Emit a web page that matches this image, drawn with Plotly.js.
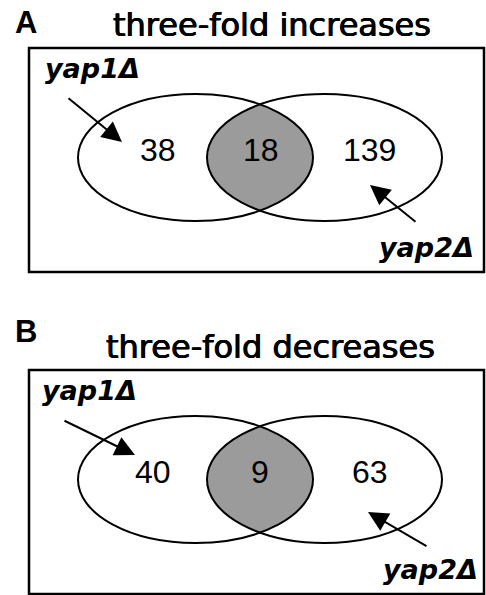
<!DOCTYPE html>
<html>
<head>
<meta charset="utf-8">
<script src="https://cdn.plot.ly/plotly-3.0.1.min.js"></script>
<style>html,body{margin:0;padding:0;background:#fff;}#chart{width:486px;height:595px;}</style>
</head>
<body>
<div id="chart"></div>
<script>
// ---- data ----
const panelLetters = ['A', 'B'];
const panelTitles = ['three-fold increases', 'three-fold decreases'];
const setNames = ['yap1\u0394', 'yap2\u0394'];
const onlyYap1 = [38, 40];
const shared = [18, 9];
const onlyYap2 = [139, 63];

// ---- layout geometry (pixel-like coordinates) ----
const W = 486, H = 595;
const panelTop = [0, 322];
const geo = {
  box: [29, 48, 484, 272],
  cxL: 195.5, cxR: 324.5, rx: 117.5, ry: 63.5, cy: 157.5,
  letter: [13, 22], title: [25],
  label1Y: 68, label2Y: 247,
  numY: 150
};
const panelTweaks = [
  {letterY: 22, titleX: 272, label1X: 43, label2X: 476, arrow1: [67, 97, 122, 142], arrow2: [417, 223, 370, 185], numX: [158, 260.5, 369.5]},
  {letterY: 9, titleX: 270, label1X: 40, label2X: 480, arrow1: [63, 98, 135, 133], arrow2: [428, 225, 368, 190], numX: [153, 260, 370]}
];

const traces = [];
const shapes = [];
const annotations = [];

function lens(cxL, cxR, rx, ry, cy) {
  const x0 = (cxL + cxR) / 2;
  const th = Math.acos((x0 - cxL) / rx);
  const xs = [], ys = [];
  const n = 60;
  for (let i = 0; i <= n; i++) {
    const t = -th + 2 * th * i / n;
    xs.push(cxL + rx * Math.cos(t)); ys.push(cy + ry * Math.sin(t));
  }
  for (let i = 0; i <= n; i++) {
    const t = Math.PI - th + 2 * th * i / n;
    xs.push(cxR + rx * Math.cos(t)); ys.push(cy + ry * Math.sin(t));
  }
  return {xs, ys};
}

const heavy = '0.5px 0 0 #000, -0.5px 0 0 #000';

panelLetters.forEach((letter, p) => {
  const o = panelTop[p];
  const tw = panelTweaks[p];
  const cy = geo.cy + o;
  // box
  shapes.push({type: 'rect', xref: 'x', yref: 'y', x0: geo.box[0], x1: geo.box[2], y0: geo.box[1] + o, y1: geo.box[3] + o,
    line: {color: '#000', width: 2.5}, fillcolor: 'rgba(0,0,0,0)', layer: 'above'});
  // ellipses
  [geo.cxL, geo.cxR].forEach(cx => {
    shapes.push({type: 'circle', xref: 'x', yref: 'y', x0: cx - geo.rx, x1: cx + geo.rx, y0: cy - geo.ry, y1: cy + geo.ry,
      line: {color: '#000', width: 2}, fillcolor: 'rgba(0,0,0,0)', layer: 'above'});
  });
  // intersection fill
  const L = lens(geo.cxL, geo.cxR, geo.rx, geo.ry, cy);
  traces.push({type: 'scatter', mode: 'lines', x: L.xs, y: L.ys, fill: 'toself', fillcolor: '#9b9b9b',
    line: {width: 0, color: '#9b9b9b'}, hoverinfo: 'skip', showlegend: false});
  // panel letter
  annotations.push({text: '<b>' + letter + '</b>', x: geo.letter[0], y: tw.letterY + o, xref: 'x', yref: 'y',
    xanchor: 'left', yanchor: 'middle', showarrow: false, font: {family: 'Liberation Sans, Arial, sans-serif', size: 31, color: '#000'}});
  // title
  annotations.push({text: panelTitles[p], x: tw.titleX, y: geo.title[0] + o, xref: 'x', yref: 'y',
    xanchor: 'center', yanchor: 'middle', showarrow: false, font: {family: 'DejaVu Sans, sans-serif', size: 32, color: '#000', shadow: heavy}});
  // set labels
  annotations.push({text: '<b><i>' + setNames[0] + '</i></b>', x: tw.label1X, y: geo.label1Y + o, xref: 'x', yref: 'y',
    xanchor: 'left', yanchor: 'middle', showarrow: false, font: {family: 'DejaVu Sans, sans-serif', size: 27, color: '#000'}});
  annotations.push({text: '<b><i>' + setNames[1] + '</i></b>', x: tw.label2X, y: geo.label2Y + o, xref: 'x', yref: 'y',
    xanchor: 'right', yanchor: 'middle', showarrow: false, font: {family: 'DejaVu Sans, sans-serif', size: 27, color: '#000'}});
  // arrows
  [tw.arrow1, tw.arrow2].forEach(a => {
    annotations.push({text: '', x: a[2], y: a[3] + o, ax: a[0], ay: a[1] + o, xref: 'x', yref: 'y', axref: 'x', ayref: 'y',
      showarrow: true, arrowhead: 2, arrowsize: 2, arrowwidth: 2, arrowcolor: '#000', standoff: 0, startstandoff: 0});
  });
  // counts
  [onlyYap1[p], shared[p], onlyYap2[p]].forEach((v, i) => {
    annotations.push({text: String(v), x: tw.numX[i], y: geo.numY + o, xref: 'x', yref: 'y',
      xanchor: 'center', yanchor: 'middle', showarrow: false, font: {family: 'Liberation Sans, Arial, sans-serif', size: 32, color: '#000'}});
  });
});

const layout = {
  width: W, height: H,
  margin: {l: 0, r: 0, t: 0, b: 0, pad: 0},
  paper_bgcolor: '#fff', plot_bgcolor: '#fff',
  showlegend: false,
  xaxis: {range: [0, W], visible: false, fixedrange: true},
  yaxis: {range: [H, 0], visible: false, fixedrange: true},
  shapes: shapes,
  annotations: annotations
};
Plotly.newPlot('chart', traces, layout, {displayModeBar: false, staticPlot: true});
</script>
</body>
</html>
